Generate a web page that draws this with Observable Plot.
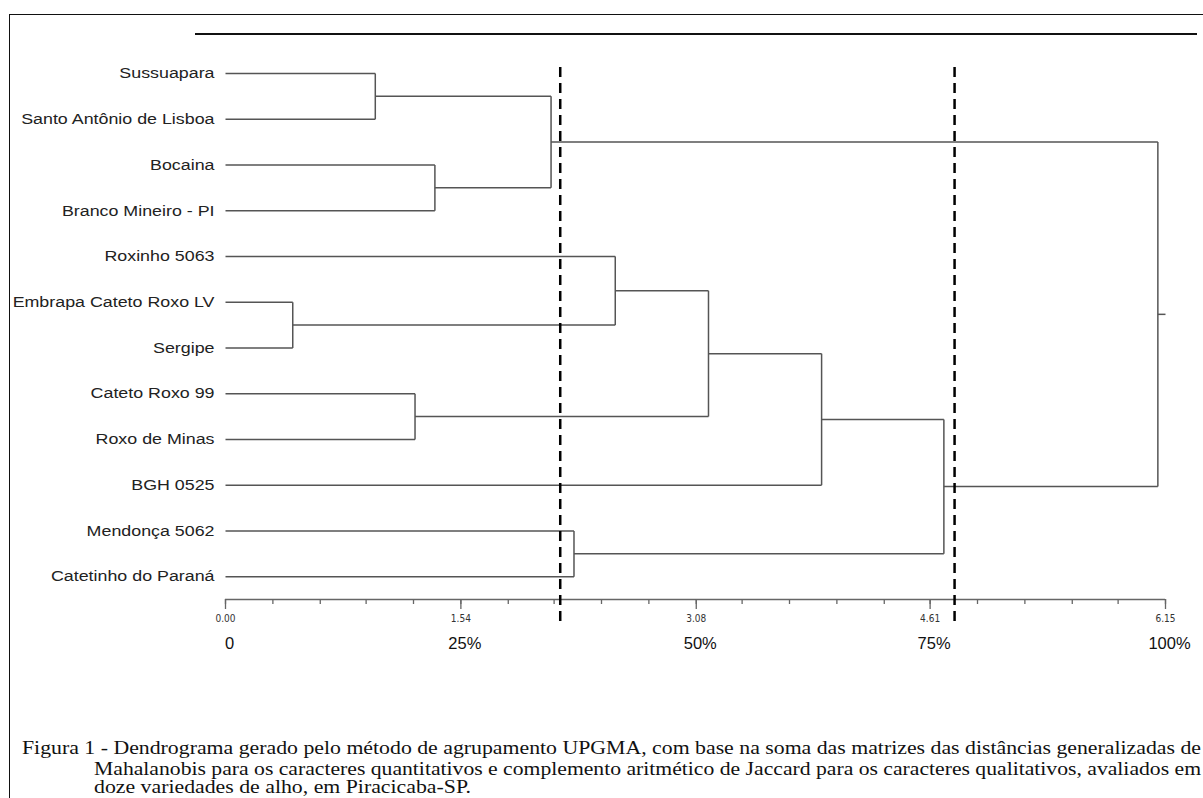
<!DOCTYPE html>
<html>
<head>
<meta charset="utf-8">
<script src="https://cdn.jsdelivr.net/npm/d3@7"></script>
<script src="https://cdn.jsdelivr.net/npm/@observablehq/plot@0.6"></script>
<style>
  html, body { margin: 0; padding: 0; background: #fff; overflow: hidden; }
  #wrap { position: relative; width: 1203px; height: 798px; overflow: hidden; background: #fff; }
  #chart { position: absolute; left: 0; top: 0; }
  #frame { position: absolute; left: 9px; top: 14px; width: 1300px; height: 900px;
           border-top: 1.5px solid #111; border-left: 1.5px solid #111; pointer-events: none; }
  #topline { position: absolute; left: 195px; top: 33px; width: 1002px; border-top: 2px solid #111; pointer-events: none; }
  .cap { position: absolute; font-family: "Liberation Serif", "Times New Roman", serif; font-size: 18px;
         line-height: 20px; color: #111; white-space: nowrap; display: inline-block; transform-origin: 0 0; }
</style>
</head>
<body>
<div id="wrap">
  <div id="chart"></div>
  <div id="frame"></div>
  <div id="topline"></div>
  <div class="cap" id="cap1" style="left:22px; top:738px;"></div>
  <div class="cap" id="cap2" style="left:94px; top:759px;"></div>
  <div class="cap" id="cap3" style="left:94px; top:777px;"></div>
</div>
<script>
// Leaves (top to bottom)
const leaves = [
  "Sussuapara",
  "Santo Antônio de Lisboa",
  "Bocaina",
  "Branco Mineiro - PI",
  "Roxinho 5063",
  "Embrapa Cateto Roxo LV",
  "Sergipe",
  "Cateto Roxo 99",
  "Roxo de Minas",
  "BGH 0525",
  "Mendonça 5062",
  "Catetinho do Paraná"
];
// Merges: [child A, child B, fusion distance]; new node ids start at 12
const mergeA = [5, 0, 7, 2, 13, 10, 4, 18, 19, 20, 16];
const mergeB = [6, 1, 8, 3, 15, 11, 12, 14, 9, 17, 21];
const mergeHeight = [0.44, 0.98, 1.24, 1.37, 2.13, 2.28, 2.55, 3.16, 3.90, 4.70, 6.10];
const maxDistance = 6.15;
// Cut lines (dashed)
const cutLines = [2.19, 4.77];
// Axis ticks
const majorTicks = [0.00, 1.54, 3.08, 4.61, 6.15];
const majorLabels = ["0.00", "1.54", "3.08", "4.61", "6.15"];
const percentLabels = ["0", "25%", "50%", "75%", "100%"];
const minorTicks = [0, 0.31, 0.62, 0.92, 1.23, 1.54, 1.85, 2.15, 2.46, 2.77, 3.08,
                    3.38, 3.69, 4.00, 4.31, 4.61, 4.92, 5.23, 5.54, 5.84, 6.15];

// Caption lines
const captionLines = [
  "Figura 1 - Dendrograma gerado pelo método de agrupamento UPGMA, com base na soma das matrizes das distâncias generalizadas de",
  "Mahalanobis para os caracteres quantitativos e complemento aritmético de Jaccard para os caracteres qualitativos, avaliados em",
  "doze variedades de alho, em Piracicaba-SP."
];
const captionWidths = [1179, 1107];

// Build node positions
const nodeX = leaves.map(() => 0);
const nodeY = leaves.map((d, i) => i);
const segs = [];
mergeA.forEach((a, k) => {
  const b = mergeB[k], h = mergeHeight[k];
  const id = leaves.length + k;
  nodeX[id] = h;
  nodeY[id] = (nodeY[a] + nodeY[b]) / 2;
  segs.push({x1: nodeX[a], y1: nodeY[a], x2: h, y2: nodeY[a]});
  segs.push({x1: nodeX[b], y1: nodeY[b], x2: h, y2: nodeY[b]});
  segs.push({x1: h, y1: nodeY[a], x2: h, y2: nodeY[b]});
});
const rootId = nodeX.length - 1;
segs.push({x1: nodeX[rootId], y1: nodeY[rootId], x2: maxDistance, y2: nodeY[rootId]});

const axisY = leaves.length - 0.5;

const chart = Plot.plot({
  width: 1203,
  height: 680,
  marginLeft: 225,
  marginRight: 38,
  marginTop: 73,
  marginBottom: 81,
  x: {domain: [0, maxDistance], axis: null, label: null},
  y: {domain: [0, axisY], reverse: true, axis: null, label: null},
  style: {fontFamily: "'Liberation Sans', Arial, sans-serif", background: "none"},
  marks: [
    Plot.link(segs, {x1: "x1", y1: "y1", x2: "x2", y2: "y2", stroke: "#555", strokeWidth: 1.5}),
    Plot.text(leaves, {x: 0, y: (d, i) => i, text: d => d, textAnchor: "end", dx: -11,
      fontSize: 15, fill: "#222", className: "leaf-label"}),
    Plot.ruleY([axisY], {x1: 0, x2: maxDistance, stroke: "#666", strokeWidth: 1.5}),
    Plot.axisX(minorTicks, {anchor: "bottom", tickSize: 5, fill: "none", stroke: "#666", strokeWidth: 1.3, label: null}),
    Plot.axisX(majorTicks, {anchor: "bottom", tickSize: 10, tickPadding: 5, stroke: "#666", strokeWidth: 1.3,
      fill: "#333", fontSize: 10, tickFormat: (d, i) => majorLabels[i], label: null,
      fontFamily: "'Liberation Sans Narrow', 'DejaVu Sans Condensed', sans-serif"}),
    Plot.axisX(majorTicks, {anchor: "bottom", tickSize: 0, tickPadding: 38, fill: "#111", fontSize: 16.5,
      dx: 4, tickFormat: (d, i) => percentLabels[i], label: null}),
    Plot.ruleX(cutLines, {stroke: "#000", strokeWidth: 2.5, strokeDasharray: "10,6",
      insetTop: -6, insetBottom: -26})
  ]
});
document.getElementById("chart").appendChild(chart);

// The reference image is horizontally stretched: widen leaf labels the same way
d3.select(chart).selectAll(".leaf-label text").each(function() {
  const t = this.getAttribute("transform") || "";
  this.setAttribute("transform", t + " scale(1.19,1)");
});

// Caption: first two lines fitted to their widths, last line uses the first line's scale
const els = ["cap1", "cap2", "cap3"].map((id, i) => {
  const el = document.getElementById(id);
  el.textContent = captionLines[i];
  return el;
});
const scales = [0, 1].map(i => captionWidths[i] / els[i].getBoundingClientRect().width);
scales.push(scales[0]);
els.forEach((el, i) => { el.style.transform = `scaleX(${scales[i]})`; });
</script>
</body>
</html>
